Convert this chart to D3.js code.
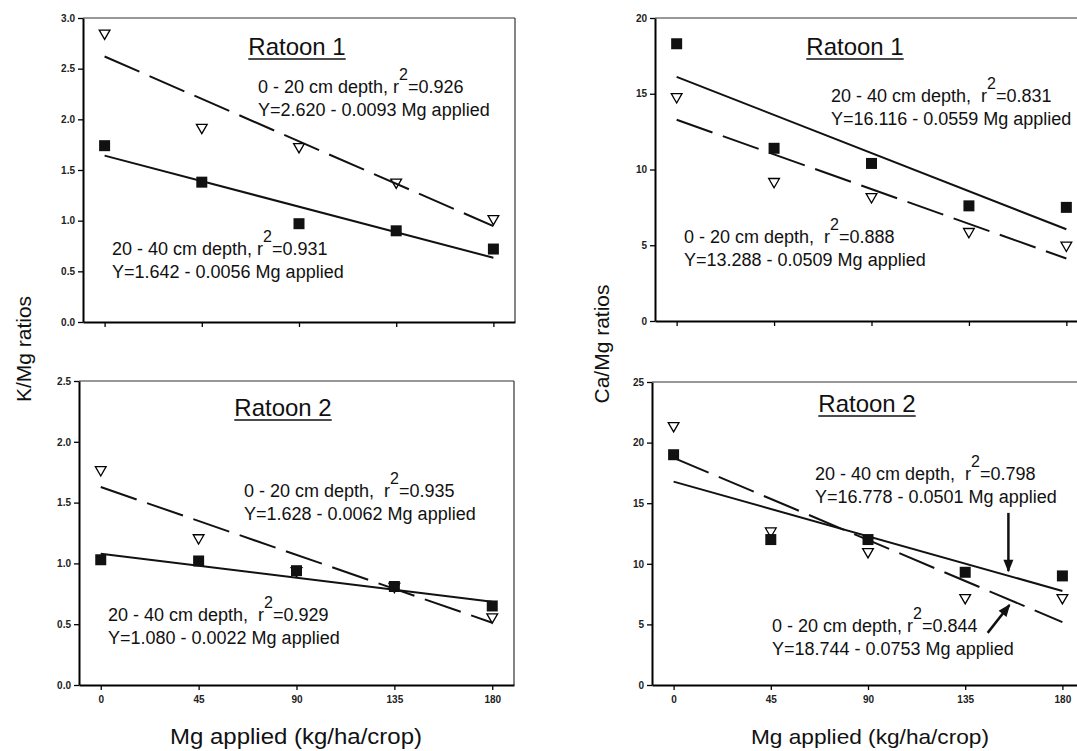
<!DOCTYPE html>
<html>
<head>
<meta charset="utf-8">
<script src="https://cdn.jsdelivr.net/npm/d3@7"></script>
<style>
  html, body { margin: 0; padding: 0; background: #fff; }
  svg { display: block; font-family: "Liberation Sans", Arial, sans-serif; }
  text { white-space: pre; }
</style>
</head>
<body>
<svg id="chart" width="1077" height="751"></svg>
<script>
// ---------------- DATA ----------------
const mgApplied = [0, 45, 90, 135, 180];
const xTickValues = [0, 45, 90, 135, 180];
const fitRange = [0, 180];

// K/Mg ratios
const kmgR1Depth0_20  = [2.85, 1.92, 1.73, 1.38, 1.02];
const kmgR1Depth20_40 = [1.74, 1.38, 0.97, 0.90, 0.72];
const kmgR2Depth0_20  = [1.77, 1.21, 0.94, 0.81, 0.56];
const kmgR2Depth20_40 = [1.03, 1.02, 0.94, 0.81, 0.65];
// Ca/Mg ratios
const camgR1Depth0_20  = [14.8, 9.2, 8.2, 5.9, 5.0];
const camgR1Depth20_40 = [18.3, 11.4, 10.4, 7.6, 7.5];
const camgR2Depth0_20  = [21.4, 12.7, 11.0, 7.2, 7.2];
const camgR2Depth20_40 = [19.0, 12.0, 12.0, 9.3, 9.0];

// regression equations (intercept, slope) as printed on the chart
const fitIntercepts0_20  = [2.620, 1.628, 13.288, 18.744];
const fitSlopes0_20      = [-0.0093, -0.0062, -0.0509, -0.0753];
const fitIntercepts20_40 = [1.642, 1.080, 16.116, 16.778];
const fitSlopes20_40     = [-0.0056, -0.0022, -0.0559, -0.0501];

// y tick values
const kmgTicksR1 = [0, 0.5, 1.0, 1.5, 2.0, 2.5, 3.0];
const kmgTicksR2 = [0, 0.5, 1.0, 1.5, 2.0, 2.5];
const camgTicksR1 = [0, 5, 10, 15, 20];
const camgTicksR2 = [0, 5, 10, 15, 20, 25];

const panelTitles = ["Ratoon 1", "Ratoon 2", "Ratoon 1", "Ratoon 2"];
const yAxisTitles = ["K/Mg ratios", "Ca/Mg ratios"];
const xAxisTitle = "Mg applied (kg/ha/crop)";

// annotation texts: [before superscript, superscript, after], equation line
const annot0_20 = [
  ["0 - 20 cm depth, r", "2", "=0.926", "Y=2.620 - 0.0093 Mg applied"],
  ["0 - 20 cm depth,  r", "2", "=0.935", "Y=1.628 - 0.0062 Mg applied"],
  ["0 - 20 cm depth,  r", "2", "=0.888", "Y=13.288 - 0.0509 Mg applied"],
  ["0 - 20 cm depth, r", "2", "=0.844", "Y=18.744 - 0.0753 Mg applied"]
];
const annot20_40 = [
  ["20 - 40 cm depth, r", "2", "=0.931", "Y=1.642 - 0.0056 Mg applied"],
  ["20 - 40 cm depth,  r", "2", "=0.929", "Y=1.080 - 0.0022 Mg applied"],
  ["20 - 40 cm depth,  r", "2", "=0.831", "Y=16.116 - 0.0559 Mg applied"],
  ["20 - 40 cm depth,  r", "2", "=0.798", "Y=16.778 - 0.0501 Mg applied"]
];
// arrows in last panel (data coordinates): [x1, y1, x2, y2]
const arrowsBR = [[155, 14.2, 155, 9.4], [145.4, 4.3, 155.5, 6.6]];

// ---------------- LAYOUT ----------------
const panels = [
  { l: 83,  r: 515,  t: 18,  b: 322, ymax: 3.0, ticks: kmgTicksR1, fmt: d3.format(".1f"),
    s0: kmgR1Depth0_20, s1: kmgR1Depth20_40, xlabels: false,
    titleX: 297, titleY: 55, a0: [258, 93], a1: [112, 255] },
  { l: 79,  r: 514,  t: 381, b: 685, ymax: 2.5, ticks: kmgTicksR2, fmt: d3.format(".1f"),
    s0: kmgR2Depth0_20, s1: kmgR2Depth20_40, xlabels: true,
    titleX: 283, titleY: 416, a0: [244, 497], a1: [108, 621] },
  { l: 655, r: 1088, t: 18,  b: 321, ymax: 20, ticks: camgTicksR1, fmt: d3.format("d"),
    s0: camgR1Depth0_20, s1: camgR1Depth20_40, xlabels: false,
    titleX: 855, titleY: 55, a0: [684, 243], a1: [831, 102] },
  { l: 652, r: 1084, t: 382, b: 685, ymax: 25, ticks: camgTicksR2, fmt: d3.format("d"),
    s0: camgR2Depth0_20, s1: camgR2Depth20_40, xlabels: true,
    titleX: 867, titleY: 412, a0: [772, 632], a1: [815, 480] }
];

const svg = d3.select("#chart");
svg.append("rect").attr("width", 1077).attr("height", 751).attr("fill", "#fff");

const triSym = d3.symbol().type(d3.symbolTriangle).size(50);
const sqSym = d3.symbol().type(d3.symbolSquare).size(121);

svg.append("defs").append("marker").attr("id", "ah")
  .attr("viewBox", "0 0 10 10").attr("refX", 9).attr("refY", 5)
  .attr("markerWidth", 6).attr("markerHeight", 5).attr("orient", "auto")
  .attr("markerUnits", "strokeWidth")
  .append("path").attr("d", "M0,1 L10,5 L0,9 Z").attr("fill", "#111");

function addAnnotation(g, parts, x, y) {
  const t = g.append("text").attr("x", x).attr("y", y)
    .attr("font-size", 18).attr("fill", "#111");
  t.append("tspan").text(parts[0]);
  t.append("tspan").attr("dy", -13).attr("font-size", 16).text(parts[1]);
  t.append("tspan").attr("dy", 13).text(parts[2]);
  g.append("text").attr("x", x).attr("y", y + 23)
    .attr("font-size", 18).attr("fill", "#111").text(parts[3]);
}

panels.forEach((p, i) => {
  const g = svg.append("g");
  const x = d3.scaleLinear().domain([-10, 190]).range([p.l, p.r]);
  const y = d3.scaleLinear().domain([0, p.ymax]).range([p.b, p.t]);

  // frame (top & right)
  g.append("line").attr("x1", p.l).attr("x2", p.r).attr("y1", p.t).attr("y2", p.t)
    .attr("stroke", "#333").attr("stroke-width", 1.2);
  g.append("line").attr("x1", p.r).attr("x2", p.r).attr("y1", p.t).attr("y2", p.b)
    .attr("stroke", "#333").attr("stroke-width", 1.2);

  // axes
  const ya = g.append("g").attr("transform", `translate(${p.l},0)`)
    .call(d3.axisLeft(y).tickValues(p.ticks).tickFormat(p.fmt)
      .tickSize(5).tickSizeOuter(0).tickPadding(3));
  const xa = g.append("g").attr("transform", `translate(0,${p.b})`)
    .call(d3.axisBottom(x).tickValues(xTickValues)
      .tickFormat(p.xlabels ? d3.format("d") : () => "")
      .tickSize(5).tickSizeOuter(0).tickPadding(6));
  [ya, xa].forEach(a => {
    a.select(".domain").attr("stroke", "#000").attr("stroke-width", 2);
    a.selectAll(".tick line").attr("stroke", "#000").attr("stroke-width", 1.3);
    a.selectAll(".tick text").attr("font-size", 10).attr("font-weight", "bold")
      .attr("fill", "#222").attr("font-family", "\"Liberation Sans\", Arial, sans-serif");
  });

  // markers: triangles (0-20 cm), squares (20-40 cm)
  g.selectAll(".tri").data(mgApplied.map((m, k) => [m, p.s0[k]])).join("path")
    .attr("d", triSym)
    .attr("transform", d => `translate(${x(d[0])},${y(d[1])}) rotate(180)`)
    .attr("fill", "#fff").attr("stroke", "#000").attr("stroke-width", 1.3);
  g.selectAll(".sq").data(mgApplied.map((m, k) => [m, p.s1[k]])).join("path")
    .attr("d", sqSym)
    .attr("transform", d => `translate(${x(d[0])},${y(d[1])})`)
    .attr("fill", "#111");

  // fit lines
  const line = d3.line().x(d => x(d[0])).y(d => y(d[1]));
  const fit0 = fitRange.map(m => [m, fitIntercepts0_20[i] + fitSlopes0_20[i] * m]);
  const fit1 = fitRange.map(m => [m, fitIntercepts20_40[i] + fitSlopes20_40[i] * m]);
  g.append("path").datum(fit0).attr("d", line).attr("fill", "none")
    .attr("stroke", "#111").attr("stroke-width", 2).attr("stroke-dasharray", "38,11");
  g.append("path").datum(fit1).attr("d", line).attr("fill", "none")
    .attr("stroke", "#111").attr("stroke-width", 2);

  // panel title, underlined
  const tt = g.append("text").attr("x", p.titleX).attr("y", p.titleY)
    .attr("text-anchor", "middle").attr("font-size", 24).attr("fill", "#111")
    .text(panelTitles[i]);
  const w = tt.node().getComputedTextLength();
  g.append("line").attr("x1", p.titleX - w / 2).attr("x2", p.titleX + w / 2)
    .attr("y1", p.titleY + 4).attr("y2", p.titleY + 4)
    .attr("stroke", "#111").attr("stroke-width", 1.5);

  addAnnotation(g, annot0_20[i], p.a0[0], p.a0[1]);
  addAnnotation(g, annot20_40[i], p.a1[0], p.a1[1]);

  if (i === 3) {
    arrowsBR.forEach(a => {
      g.append("line").attr("x1", x(a[0])).attr("y1", y(a[1]))
        .attr("x2", x(a[2])).attr("y2", y(a[3]))
        .attr("stroke", "#111").attr("stroke-width", 2.5)
        .attr("marker-end", "url(#ah)");
    });
  }
});

// y axis titles
svg.append("text").attr("transform", "translate(31,349) rotate(-90)")
  .attr("text-anchor", "middle").attr("font-size", 21).attr("fill", "#111")
  .text(yAxisTitles[0]);
svg.append("text").attr("transform", "translate(609,344) rotate(-90)")
  .attr("text-anchor", "middle").attr("font-size", 21).attr("fill", "#111")
  .text(yAxisTitles[1]);

// x axis titles
svg.append("text").attr("x", 296).attr("y", 744).attr("text-anchor", "middle")
  .attr("font-size", 22).attr("fill", "#111")
  .attr("textLength", 252).attr("lengthAdjust", "spacingAndGlyphs").text(xAxisTitle);
svg.append("text").attr("x", 870).attr("y", 744).attr("text-anchor", "middle")
  .attr("font-size", 21).attr("fill", "#111")
  .attr("textLength", 238).attr("lengthAdjust", "spacingAndGlyphs").text(xAxisTitle);
</script>
</body>
</html>
